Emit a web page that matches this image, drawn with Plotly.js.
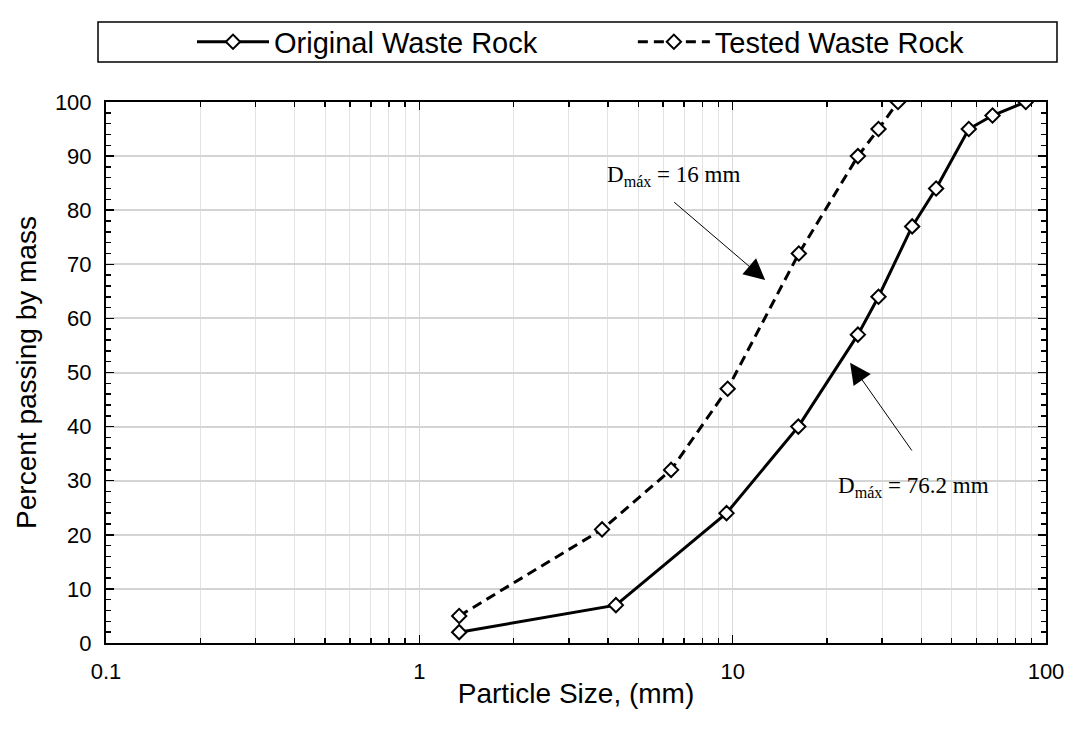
<!DOCTYPE html>
<html>
<head>
<meta charset="utf-8">
<script src="https://cdn.plot.ly/plotly-3.0.1.min.js"></script>
<style>
  html, body { margin: 0; padding: 0; background: #fff; }
  #chart { width: 1075px; height: 731px; }
</style>
</head>
<body>
<div id="chart"></div>
<script>
// Grain size distribution: particle size (mm) vs. percent passing by mass
const originalSize    = [1.34, 4.24, 9.56, 16.2, 25.1, 29.2, 37.4, 44.6, 56.7, 67.5, 86.2];
const originalPassing = [2, 7, 24, 40, 57, 64, 77, 84, 95, 97.5, 100];

const testedSize    = [1.34, 3.83, 6.36, 9.64, 16.26, 25.1, 29.2, 33.7];
const testedPassing = [5, 21, 32, 47, 72, 90, 95, 100];

const seriesNames = ['Original Waste Rock', 'Tested Waste Rock'];
const xTickVals  = [0.1, 1, 10, 100];
const xTickText  = ['0.1', '1', '10', '100'];

// minor ticks at 2..9 within each decade
const xMinorVals = [];
[0.1, 1, 10].forEach(function (d) {
  for (let k = 2; k <= 9; k++) xMinorVals.push(+(d * k).toPrecision(3));
});

const sans = 'Liberation Sans, Arial, sans-serif';
const serif = 'Liberation Serif, Times New Roman, serif';

const markerStyle = {
  symbol: 'diamond', size: 11, color: '#ffffff',
  line: { color: '#000000', width: 2 }
};

const traces = [
  {
    x: originalSize, y: originalPassing, name: seriesNames[0],
    type: 'scatter', mode: 'lines+markers',
    line: { color: '#000000', width: 3 },
    marker: markerStyle, legend: 'legend'
  },
  {
    x: testedSize, y: testedPassing, name: seriesNames[1],
    type: 'scatter', mode: 'lines+markers',
    line: { color: '#000000', width: 3, dash: '10px,6px' },
    marker: markerStyle, legend: 'legend2'
  }
];

const L = Math.log10;

const legendFont = { family: sans, size: 29, color: '#000' };

const layout = {
  width: 1075, height: 731,
  margin: { l: 106, r: 29, t: 102, b: 88 },
  paper_bgcolor: '#ffffff', plot_bgcolor: '#ffffff',
  font: { family: sans, color: '#000000', size: 22 },
  showlegend: true,
  legend: {
    orientation: 'h', x: 0.0915, xanchor: 'left', y: 1.111, yanchor: 'middle',
    itemwidth: 72, font: legendFont, bgcolor: 'rgba(0,0,0,0)'
  },
  legend2: {
    orientation: 'h', x: 0.5605, xanchor: 'left', y: 1.111, yanchor: 'middle',
    itemwidth: 72, font: legendFont, bgcolor: 'rgba(0,0,0,0)'
  },
  xaxis: {
    type: 'log', range: [-1, 2],
    tickmode: 'array', tickvals: xTickVals, ticktext: xTickText,
    ticks: 'inside', ticklen: 8, tickwidth: 1.5, tickcolor: '#000',
    showline: true, linecolor: '#000', linewidth: 2, mirror: 'allticks',
    showgrid: true, gridcolor: '#d9d9d9', gridwidth: 1.5,
    zeroline: false,
    tickfont: { family: sans, size: 22, color: '#000' },
    ticklabelstandoff: 8,
    minor: {
      tickmode: 'array', tickvals: xMinorVals,
      ticks: 'inside', ticklen: 5, tickwidth: 1.5, tickcolor: '#000',
      showgrid: true, gridcolor: '#e3e3e3', gridwidth: 1
    },
    title: { text: 'Particle Size, (mm)', font: { family: sans, size: 28, color: '#000' }, standoff: 0 }
  },
  yaxis: {
    range: [0, 100], tickmode: 'linear', tick0: 0, dtick: 10,
    ticks: 'inside', ticklen: 8, tickwidth: 1.5, tickcolor: '#000',
    showline: true, linecolor: '#000', linewidth: 2, mirror: 'allticks',
    showgrid: true, gridcolor: '#d4d4d4', gridwidth: 2,
    zeroline: false,
    tickfont: { family: sans, size: 22, color: '#000' },
    ticklabelstandoff: 8,
    minor: {
      dtick: 2, ticks: 'inside', ticklen: 5, tickwidth: 1.5, tickcolor: '#000',
      showgrid: false
    },
    title: { text: 'Percent passing by mass', font: { family: sans, size: 28, color: '#000' }, standoff: 10 }
  },
  shapes: [
    {
      type: 'rect', xref: 'paper', yref: 'paper',
      x0: -0.0085, x1: 1.0117, y0: 1.074, y1: 1.148,
      line: { color: '#000', width: 1.5 }, fillcolor: 'rgba(0,0,0,0)'
    }
  ],
  annotations: [
    {
      x: L(6.47), y: 86.3, xref: 'x', yref: 'y',
      text: 'D<sub>máx</sub> = 16 mm', showarrow: false,
      font: { family: serif, size: 23, color: '#000' }
    },
    {
      x: L(12.7), y: 67.1, ax: L(6.44), ay: 81.7,
      xref: 'x', yref: 'y', axref: 'x', ayref: 'y',
      text: '', showarrow: true, arrowhead: 2, arrowsize: 4.2, arrowwidth: 1, arrowcolor: '#000'
    },
    {
      x: L(37.9), y: 28.8, xref: 'x', yref: 'y',
      text: 'D<sub>máx</sub> = 76.2 mm', showarrow: false,
      font: { family: serif, size: 23, color: '#000' }
    },
    {
      x: L(23.7), y: 51.8, ax: L(37.6), ay: 35.3,
      xref: 'x', yref: 'y', axref: 'x', ayref: 'y',
      text: '', showarrow: true, arrowhead: 2, arrowsize: 4.2, arrowwidth: 1, arrowcolor: '#000'
    }
  ]
};

Plotly.newPlot('chart', traces, layout, { displayModeBar: false, staticPlot: true });
</script>
</body>
</html>
